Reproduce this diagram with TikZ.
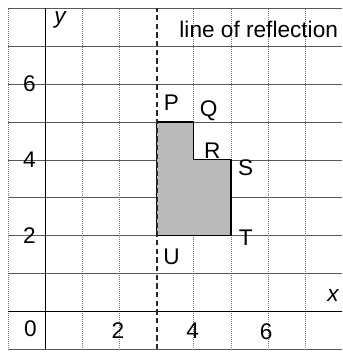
\documentclass[tikz,border=0pt]{standalone}
\usepackage{fontspec}
\setmainfont{Liberation Sans}
\usetikzlibrary{positioning}

\begin{document}
\begin{tikzpicture}[x=0.98cm, y=1cm,
        gridh/.style={black!65, line width=0.5pt},
        gridv/.style={black!55, line width=0.5pt, densely dotted},
        axis/.style={black, line width=1pt},
        mirror/.style={black!85, line width=1.3pt, dash pattern=on 4pt off 2.5pt},
        lab/.style={font=\fontsize{17}{19}\selectfont, inner sep=1pt}]
      \useasboundingbox (-1.22,-1.1) rectangle (8,8.22);
      % grid
      \foreach \y in {-1,...,8} \draw[gridh] (-1,\y) -- (8,\y);
      \foreach \x in {-1,1,2,4,5,6,7} \draw[gridv] (\x,-1) -- (\x,8);
      \draw[axis] (-1,0) -- (8,0);
      \draw[axis] (0,-1) -- (0,8);
      % shape
      \coordinate (P) at (3,5);
      \coordinate (Q) at (4,5);
      \coordinate (R) at (4,4);
      \coordinate (S) at (5,4);
      \coordinate (T) at (5,2);
      \coordinate (U) at (3,2);
      \draw[black, line width=1pt, fill=black!27] (P) -- (Q) -- (R) -- (S) -- (T) -- (U) -- cycle;
      \draw[mirror] (3,-1) -- (3,8);
      \node[lab] (lp) at (3.4,5.5) {P};
      \node[lab] (lq) at (4.4,5.3) {Q};
      \node[lab] (lr) at (4.5,4.25) {R};
      \node[lab] (ls) at (5.4,3.78) {S};
      \node[lab] (lt) at (5.4,1.95) {T};
      \node[lab] (lu) at (3.4,1.45) {U};
      % axis labels
      \node[lab] (ly) at (0.4,7.7) {\itshape y};
      \node[lab] (lx) at (7.75,0.42) {\itshape x};
      \node[lab] (refl) at (5.75,7.45) {line of reflection};
      \node[lab] (n6) at (-0.43,6) {6};
      \node[lab] (n4) at (-0.43,4) {4};
      \node[lab] (n2) at (-0.43,2) {2};
      \node[lab] (o) at (-0.4,-0.45) {0};
      \node[lab] (m2) at (1.96,-0.52) {2};
      \node[lab] (m4) at (3.97,-0.52) {4};
      \node[lab] (m6) at (5.95,-0.55) {6};
\end{tikzpicture}
\end{document}
